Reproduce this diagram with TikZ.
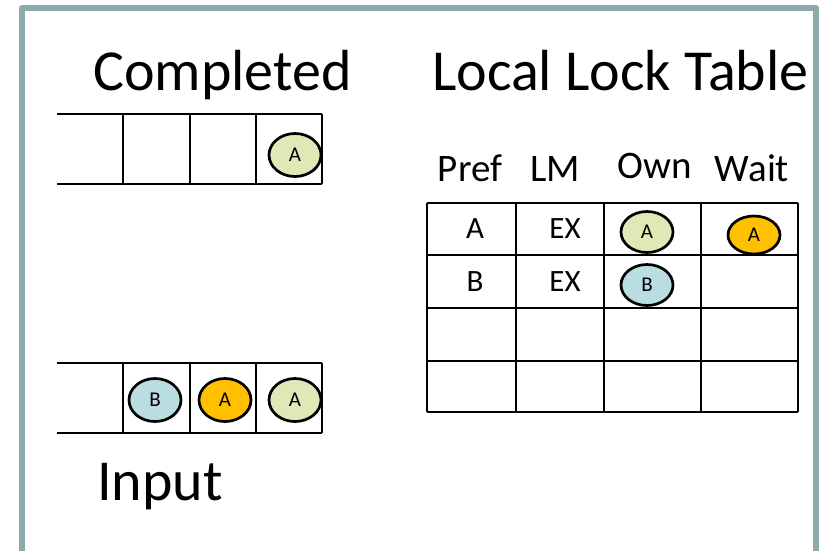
\documentclass[tikz,border=0pt]{standalone}
\usepackage{fontspec}
\setmainfont{Carlito}
\usetikzlibrary{shapes.geometric}

\definecolor{slide}{HTML}{8DA9AC}
\definecolor{tokgreen}{HTML}{E2E7B8}
\definecolor{tokblue}{HTML}{BADDE1}
\definecolor{tokorange}{HTML}{FFC000}

\begin{document}
\begin{tikzpicture}[x=1pt, y=-1pt, every node/.style={inner sep=0pt},
	token/.style={ellipse, draw, line width=2.7pt, minimum width=52pt, minimum height=43pt, font=\fontsize{21}{22}\selectfont},
	title/.style={anchor=base west, font=\fontsize{58}{60}\selectfont},
	head/.style={anchor=base, font=\fontsize{39}{40}\selectfont},
	cell/.style={anchor=base, font=\fontsize{31}{32}\selectfont}]
	\useasboundingbox (0,0) rectangle (830,550);
	% slide frame, open at the bottom
	\draw[slide, line width=6pt, line join=round] (22,570) -- (22,8) -- (816,8) -- (816,570);

	\node[title] (completed) at (93,90) {Completed};
	\node[title] (locktable) at (432,90) {Local Lock Table};
	\node[title] (input) at (97,500) {Input};

	% the two queues
	\foreach \y in {114,184,363,433} {
		\draw[line width=2.2pt] (57,\y) -- (322,\y);
	}
	\foreach \x in {123,190,256,322} {
		\draw[line width=2.2pt] (\x,114) -- (\x,184);
		\draw[line width=2.2pt] (\x,363) -- (\x,433);
	}
	\node[token, fill=tokgreen] (doneA) at (295,155) {A};
	\node[token, fill=tokblue] (inB) at (155,400) {B};
	\node[token, fill=tokorange] (inA) at (225,400) {A};
	\node[token, fill=tokgreen] (inA2) at (295,400) {A};

	% lock table
	\foreach \x/\s in {470/Pref, 555/LM, 752/Wait} {
		\node[head] at (\x,181) {\s};
	}
	\node[head] (own) at (655,178) {Own};
	\foreach \x in {427,516,604,701,798} {
		\draw[line width=2.2pt] (\x,203) -- (\x,412);
	}
	\foreach \y in {203,255,308,361,412} {
		\draw[line width=2.2pt] (427,\y) -- (798,\y);
	}
	\node[cell] (prefA) at (475,238) {A};
	\node[cell] (lmA) at (565,238) {EX};
	\node[cell] (prefB) at (475,291) {B};
	\node[cell] (lmB) at (565,291) {EX};
	\node[token, fill=tokgreen, minimum height=41pt] (ownA) at (647,232) {A};
	\node[token, fill=tokblue, minimum height=41pt] (ownB) at (647,285) {B};
	\node[token, fill=tokorange, minimum width=52pt, minimum height=38pt] (waitA) at (754,235) {A};
\end{tikzpicture}
\end{document}
